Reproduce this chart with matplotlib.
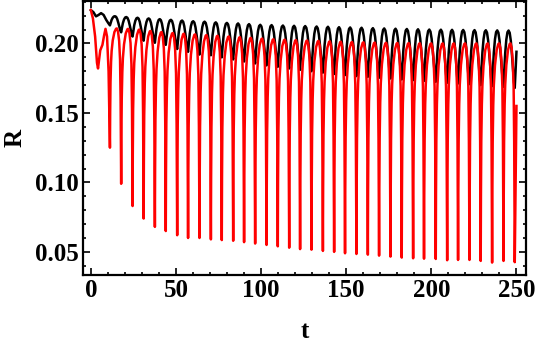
import numpy as np
import matplotlib.pyplot as plt
from matplotlib.ticker import MultipleLocator

# times of the (shared) troughs
trough_t = [11.2, 17.8, 24.5, 31.0, 37.6, 44.0, 50.7, 57.1, 63.8, 70.5,
            76.9, 83.6, 90.0, 96.5, 103.2, 109.8, 116.5, 122.9, 129.6, 136.3,
            142.9, 149.3, 156.0, 162.7, 169.3, 176.0, 182.6, 189.3, 195.7, 202.6,
            209.3, 215.7, 222.4, 229.0, 235.7, 242.4, 249.0]

red_low = [0.125, 0.099, 0.083, 0.074, 0.068, 0.065, 0.062, 0.060, 0.060, 0.059,
           0.0585, 0.058, 0.057, 0.056, 0.055, 0.054, 0.053, 0.052, 0.0516, 0.0507,
           0.050, 0.049, 0.0485, 0.048, 0.0473, 0.0466, 0.0459, 0.0454, 0.0451, 0.0449,
           0.044, 0.0442, 0.0442, 0.0435, 0.0423, 0.0435, 0.0426]
red_high = [0.2108, 0.2105, 0.210, 0.209, 0.2082, 0.2075, 0.207, 0.2065, 0.206, 0.2055,
            0.205, 0.2045, 0.204, 0.2035, 0.203, 0.2027, 0.2024, 0.2021, 0.2018, 0.2015,
            0.2012, 0.201, 0.2008, 0.2006, 0.2004, 0.2003, 0.2002, 0.2001, 0.200, 0.200,
            0.200, 0.200, 0.200, 0.200, 0.200, 0.200]

black_low = [0.213, 0.208, 0.205, 0.202, 0.2005, 0.199, 0.196, 0.194, 0.192, 0.1915,
             0.190, 0.1885, 0.187, 0.1856, 0.1842, 0.1832, 0.182, 0.181, 0.180, 0.179,
             0.178, 0.1772, 0.1765, 0.176, 0.1753, 0.1748, 0.1741, 0.1736, 0.173, 0.1724,
             0.1717, 0.1712, 0.1707, 0.170, 0.1693, 0.1688, 0.168]
black_high = [0.2196, 0.219, 0.2185, 0.218, 0.2175, 0.217, 0.2165, 0.216, 0.2157, 0.2152,
              0.2148, 0.2144, 0.2139, 0.2134, 0.2132, 0.2129, 0.2127, 0.2125, 0.2122, 0.212,
              0.2117, 0.2115, 0.2113, 0.211, 0.2108, 0.2106, 0.2104, 0.2102, 0.21, 0.2099,
              0.2098, 0.2097, 0.2096, 0.2095, 0.2094, 0.2093]

# start of each curve before the first trough, and the last point at t=250
red_start_t = [0, 1.2, 2.5, 3.6, 4.2, 4.8, 5.5, 6.8, 7.8, 8.6, 9.5, 10.4]
red_start_v = [0.224, 0.218, 0.205, 0.186, 0.182, 0.188, 0.195, 0.199, 0.206, 0.2105, 0.205, 0.18]
black_start_t = [0, 1.5, 3.0, 4.5, 6.0, 7.5, 9.0, 10.3]
black_start_v = [0.224, 0.2225, 0.2195, 0.2205, 0.2218, 0.2205, 0.217, 0.2145]
end_t = 250
red_end = 0.155
black_end = 0.194

# shape of one cycle (fraction of period, fraction of swing)
red_shape_p = [0, 0.02, 0.05, 0.1, 0.15, 0.25, 0.4, 0.55, 0.62, 0.72, 0.82, 0.9, 0.95, 0.98]
red_shape_f = [0, 0.3, 0.55, 0.72, 0.81, 0.9, 0.97, 0.998, 1.0, 0.98, 0.92, 0.8, 0.55, 0.25]
black_shape_p = [0, 0.07, 0.15, 0.25, 0.35, 0.45, 0.55, 0.65, 0.75, 0.85, 0.93]
black_shape_f = [0, 0.3, 0.6, 0.84, 0.97, 1.0, 0.96, 0.82, 0.58, 0.3, 0.1]


def build(start_t, start_v, low, high, shape_p, shape_f, last):
    ts = list(start_t)
    vs = list(start_v)
    top = shape_p[int(np.argmax(shape_f))]
    for k in range(len(trough_t) - 1):
        t0, t1 = trough_t[k], trough_t[k + 1]
        for p, f in zip(shape_p, shape_f):
            base = low[k] if p <= top else low[k + 1]
            ts.append(t0 + p * (t1 - t0))
            vs.append(base + f * (high[k] - base))
    ts += [trough_t[-1], end_t]
    vs += [low[-1], last]
    return ts, vs


plt.rcParams['font.family'] = 'Liberation Serif'
plt.rcParams['font.weight'] = 'bold'

fig = plt.figure(figsize=(5.37, 3.43), dpi=100)
ax = fig.add_axes([0.154, 0.198, 0.8255, 0.7985])

bt, bv = build(black_start_t, black_start_v, black_low, black_high,
               black_shape_p, black_shape_f, black_end)
rt, rv = build(red_start_t, red_start_v, red_low, red_high,
               red_shape_p, red_shape_f, red_end)
ax.plot(bt, bv, color='black', lw=1.8)
ax.plot(rt, rv, color='red', lw=1.8)

ax.set_xlim(-4.8, 255.6)
ax.set_ylim(0.0333, 0.2304)
ax.xaxis.set_major_locator(MultipleLocator(50))
ax.xaxis.set_minor_locator(MultipleLocator(10))
ax.yaxis.set_minor_locator(MultipleLocator(0.01))
ax.set_yticks([0.05, 0.10, 0.15, 0.20])
ax.set_yticklabels(['0.05', '0.10', '0.15', '0.20'])
ax.tick_params(which='both', direction='in', top=True, right=True,
               labelsize=18, width=1.2, pad=3)
ax.tick_params(which='major', length=5)
ax.tick_params(which='minor', length=2.5)
for s in ax.spines.values():
    s.set_linewidth(1.6)

ax.set_xlabel('t', fontsize=18, fontweight='bold', labelpad=13)
ax.set_ylabel('R', fontsize=18, fontweight='bold', labelpad=6)

fig.savefig('out.png', dpi=100)
